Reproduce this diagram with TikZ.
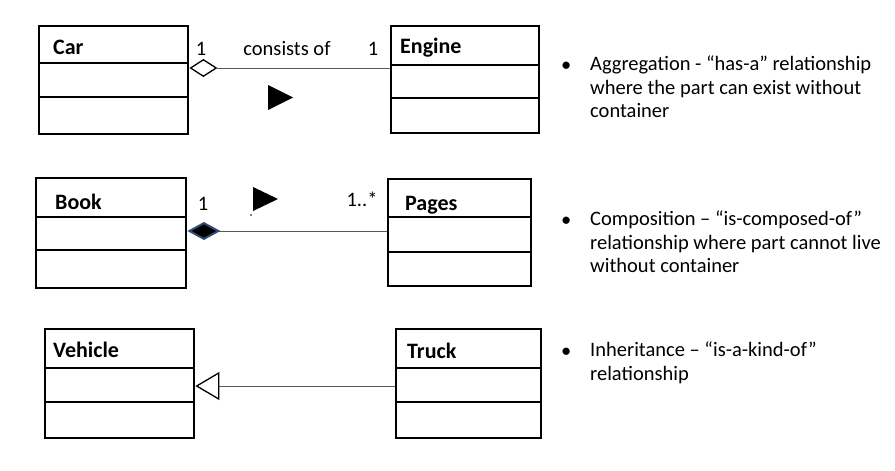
\documentclass[tikz,border=0pt]{standalone}
\usepackage{fontspec}
\setmainfont{Carlito}
\usetikzlibrary{arrows.meta,calc}
\definecolor{diamondblue}{RGB}{45,75,115}
\begin{document}
\begin{tikzpicture}[x=1pt,y=-1pt,
  cls/.style={draw=black, line width=2.4pt, rectangle, anchor=north west, inner sep=0pt},
  divider/.style={draw=black, line width=2.4pt},
  clsname/.style={anchor=base west, inner sep=0pt, font=\fontsize{22}{26}\selectfont\bfseries},
  mult/.style={anchor=base, inner sep=0pt, font=\fontsize{20.5}{24}\selectfont},
  conn/.style={draw=black!65, line width=0.9pt},
  bullet/.style={anchor=base west, inner sep=0pt, font=\fontsize{20.5}{23.5}\selectfont},
  desc/.style={anchor=north west, inner sep=0pt, align=left, font=\fontsize{20.5}{23.5}\selectfont},
  dirtri/.style={fill=black}
]
\useasboundingbox (0,0) rectangle (895,471);

% ---------- Aggregation ----------
\node[cls, minimum width=149pt, minimum height=108pt] (car) at (38,25) {};
\draw[divider] ($(car.north west)+(0,38)$) -- ($(car.north east)+(0,38)$);
\draw[divider] ($(car.north west)+(0,72)$) -- ($(car.north east)+(0,72)$);
\node[clsname] (carname) at (53,54) {Car};

\node[cls, minimum width=148pt, minimum height=107pt] (engine) at (390,25) {};
\draw[divider] ($(engine.north west)+(0,40)$) -- ($(engine.north east)+(0,40)$);
\draw[divider] ($(engine.north west)+(0,73)$) -- ($(engine.north east)+(0,73)$);
\node[clsname] (enginename) at (400,53) {Engine};

\coordinate (aggL) at (car.east |- 0,68);
\coordinate (aggR) at (engine.west |- 0,68);
\draw[conn, {Diamond[open, length=28pt, width=18pt, line width=1.3pt, color=black, fill=white]}-] (aggL) -- (aggR);
\node[mult] (aggm1) at (201,55) {1};
\node[mult] (aggtxt) at (287,56) {consists of};
\node[mult] (aggm2) at (373,55) {1};
\fill[dirtri] (268,85) -- (293,97.5) -- (268,110) -- cycle;

% ---------- Composition ----------
\node[cls, minimum width=150pt, minimum height=110pt] (book) at (35,177) {};
\draw[divider] ($(book.north west)+(0,40)$) -- ($(book.north east)+(0,40)$);
\draw[divider] ($(book.north west)+(0,73)$) -- ($(book.north east)+(0,73)$);
\node[clsname] (bookname) at (55,209) {Book};

\node[cls, minimum width=143pt, minimum height=107pt] (pages) at (387,178) {};
\draw[divider] ($(pages.north west)+(0,39)$) -- ($(pages.north east)+(0,39)$);
\draw[divider] ($(pages.north west)+(0,74)$) -- ($(pages.north east)+(0,74)$);
\node[clsname] (pagesname) at (405,210) {Pages};

\coordinate (compL) at (book.east |- 0,231);
\coordinate (compR) at (pages.west |- 0,231);
\draw[conn, {Diamond[length=33pt, width=18pt, line width=2pt, color=diamondblue, fill=black]}-] (compL) -- (compR);
\node[mult] (compm1) at (203,210) {1};
\node[mult] (compm2) at (362,206) {1..*};
\fill[dirtri] (253,187) -- (278,199) -- (253,211) -- cycle;
\fill (251,215) circle (0.8pt);

% ---------- Inheritance ----------
\node[cls, minimum width=149pt, minimum height=109pt] (vehicle) at (44,328) {};
\draw[divider] ($(vehicle.north west)+(0,40)$) -- ($(vehicle.north east)+(0,40)$);
\draw[divider] ($(vehicle.north west)+(0,74)$) -- ($(vehicle.north east)+(0,74)$);
\node[clsname] (vehiclename) at (53,357) {Vehicle};

\node[cls, minimum width=145pt, minimum height=109pt] (truck) at (395,328) {};
\draw[divider] ($(truck.north west)+(0,40)$) -- ($(truck.north east)+(0,40)$);
\draw[divider] ($(truck.north west)+(0,74)$) -- ($(truck.north east)+(0,74)$);
\node[clsname] (truckname) at (407,358) {Truck};

\coordinate (inhL) at (vehicle.east |- 0,386);
\coordinate (inhR) at (truck.west |- 0,386);
\draw[conn, {Triangle[open, length=24pt, width=28pt, line width=1.3pt, color=black, fill=white]}-] (inhL) -- (inhR);

% ---------- Descriptions ----------
\node[bullet] (b1) at (561,71) {•};
\node[desc] (d1) at (590,56) {Aggregation - “has-a” relationship\\where the part can exist without\\container};
\node[bullet] (b2) at (561,226) {•};
\node[desc] (d2) at (590,211) {Composition – “is-composed-of”\\relationship where part cannot live\\without container};
\node[bullet] (b3) at (561,357) {•};
\node[desc] (d3) at (590,342) {Inheritance – “is-a-kind-of”\\relationship};
\end{tikzpicture}
\end{document}
